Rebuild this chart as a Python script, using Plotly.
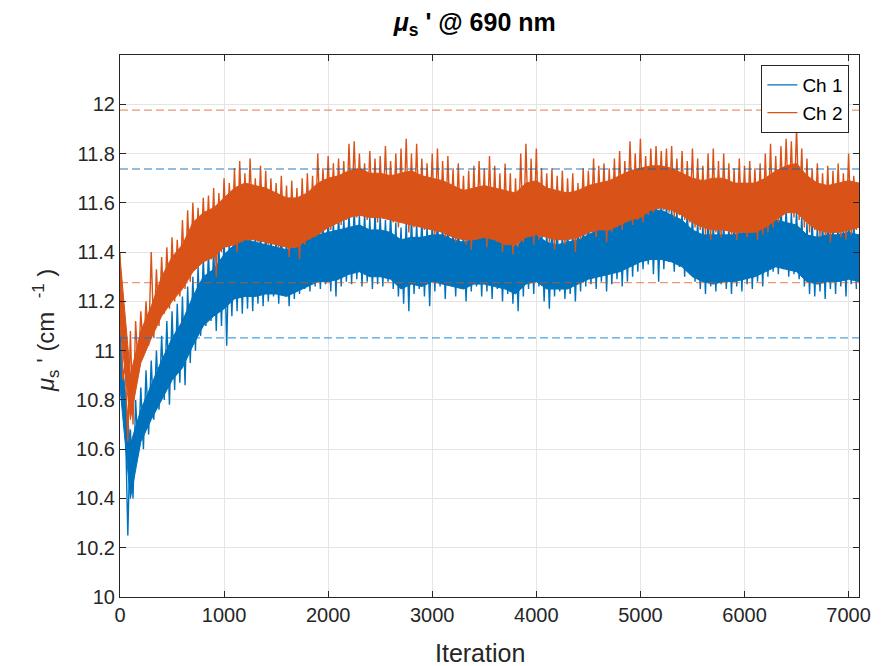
import plotly.graph_objects as go

BIN = 50      # iterations per bin for the spike envelope (local high, then local low)
CORE_STEP = 100  # iterations between samples of the dense core band

ch1_hi = [11.08, 10.75, 10.68, 10.80, 10.85, 10.92, 10.96, 11.00, 11.06, 11.12,
          11.16, 11.19, 11.22, 11.26, 11.30, 11.34, 11.38, 11.40, 11.42, 11.43,
          11.48, 11.46, 11.50, 11.52, 11.51, 11.50, 11.48, 11.50, 11.50, 11.48,
          11.47, 11.49, 11.46, 11.48, 11.50, 11.52, 11.51, 11.53, 11.54, 11.52,
          11.55, 11.53, 11.56, 11.54, 11.57, 11.58, 11.55, 11.56, 11.54, 11.57,
          11.55, 11.53, 11.56, 11.52, 11.50, 11.53, 11.55, 11.52, 11.54, 11.51,
          11.53, 11.55, 11.52, 11.54, 11.50, 11.52, 11.49, 11.51, 11.53, 11.50,
          11.52, 11.54, 11.51, 11.49, 11.52, 11.48, 11.50, 11.53, 11.55, 11.52,
          11.54, 11.51, 11.49, 11.52, 11.50, 11.48, 11.51, 11.49, 11.50, 11.53,
          11.54, 11.52, 11.55, 11.53, 11.56, 11.54, 11.57, 11.56, 11.58, 11.57,
          11.60, 11.59, 11.62, 11.63, 11.61, 11.60, 11.58, 11.57, 11.56, 11.57,
          11.55, 11.53, 11.52, 11.54, 11.52, 11.55, 11.53, 11.51, 11.54, 11.52,
          11.55, 11.53, 11.56, 11.55, 11.58, 11.57, 11.59, 11.60, 11.58, 11.56,
          11.57, 11.55, 11.52, 11.54, 11.51, 11.53, 11.55, 11.52, 11.54, 11.51,
          11.55, 11.53]
ch1_lo = [10.80, 10.25, 10.40, 10.58, 10.60, 10.66, 10.72, 10.76, 10.80, 10.78,
          10.84, 10.87, 10.86, 10.95, 11.00, 11.06, 11.10, 11.12, 11.08, 11.10,
          11.02, 11.14, 11.16, 11.15, 11.17, 11.16, 11.19, 11.18, 11.20, 11.22,
          11.19, 11.23, 11.18, 11.21, 11.23, 11.25, 11.24, 11.26, 11.25, 11.27,
          11.24, 11.22, 11.26, 11.28, 11.27, 11.29, 11.26, 11.28, 11.25, 11.27,
          11.26, 11.28, 11.25, 11.22, 11.19, 11.16, 11.23, 11.25, 11.22, 11.18,
          11.24, 11.26, 11.21, 11.27, 11.22, 11.25, 11.20, 11.24, 11.26, 11.22,
          11.24, 11.21, 11.25, 11.20, 11.23, 11.19, 11.16, 11.22, 11.25, 11.23,
          11.26, 11.20, 11.17, 11.22, 11.24, 11.21, 11.23, 11.20, 11.24, 11.26,
          11.27, 11.25, 11.28, 11.24, 11.27, 11.29, 11.26, 11.28, 11.30, 11.32,
          11.33, 11.35, 11.31, 11.28, 11.33, 11.36, 11.32, 11.34, 11.30, 11.33,
          11.28, 11.25, 11.23, 11.26, 11.24, 11.27, 11.25, 11.23, 11.26, 11.24,
          11.27, 11.25, 11.28, 11.26, 11.30, 11.32, 11.31, 11.33, 11.30, 11.31,
          11.29, 11.26, 11.23, 11.22, 11.24, 11.21, 11.25, 11.23, 11.26, 11.22,
          11.27, 11.25]

ch2_hi = [11.40, 10.94, 11.08, 11.12, 11.16, 11.20, 11.40, 11.33, 11.38, 11.42,
          11.46, 11.45, 11.53, 11.57, 11.60, 11.58, 11.62, 11.63, 11.66, 11.64,
          11.70, 11.68, 11.74, 11.77, 11.72, 11.78, 11.70, 11.75, 11.73, 11.70,
          11.68, 11.71, 11.67, 11.69, 11.66, 11.70, 11.72, 11.71, 11.80, 11.74,
          11.79, 11.76, 11.78, 11.77, 11.84, 11.85, 11.80, 11.76, 11.81, 11.78,
          11.79, 11.83, 11.77, 11.80, 11.82, 11.86, 11.80, 11.84, 11.78, 11.76,
          11.80, 11.82, 11.77, 11.79, 11.74, 11.76, 11.71, 11.73, 11.75, 11.77,
          11.74, 11.79, 11.75, 11.72, 11.76, 11.72, 11.70, 11.80, 11.84, 11.78,
          11.82, 11.74, 11.72, 11.74, 11.71, 11.73, 11.70, 11.72, 11.68, 11.74,
          11.73, 11.78, 11.75, 11.76, 11.74, 11.78, 11.81, 11.77, 11.85, 11.80,
          11.86, 11.79, 11.82, 11.83, 11.81, 11.82, 11.83, 11.78, 11.81, 11.77,
          11.82, 11.78, 11.75, 11.80, 11.82, 11.77, 11.80, 11.76, 11.74, 11.78,
          11.75, 11.77, 11.74, 11.76, 11.80, 11.84, 11.79, 11.83, 11.86, 11.85,
          11.91, 11.82, 11.78, 11.74, 11.76, 11.72, 11.75, 11.73, 11.76, 11.72,
          11.80, 11.71]
ch2_lo = [10.88, 10.63, 10.70, 10.92, 10.98, 11.02, 11.05, 11.10, 11.15, 11.17,
          11.20, 11.22, 11.25, 11.28, 11.33, 11.36, 11.38, 11.37, 11.30, 11.40,
          11.42, 11.43, 11.40, 11.44, 11.46, 11.47, 11.44, 11.45, 11.43, 11.45,
          11.42, 11.44, 11.38, 11.42, 11.37, 11.43, 11.45, 11.46, 11.48, 11.50,
          11.49, 11.52, 11.51, 11.53, 11.55, 11.54, 11.56, 11.53, 11.55, 11.52,
          11.54, 11.55, 11.52, 11.50, 11.53, 11.48, 11.50, 11.52, 11.49, 11.51,
          11.47, 11.50, 11.46, 11.48, 11.44, 11.47, 11.43, 11.41, 11.45, 11.47,
          11.42, 11.46, 11.44, 11.40, 11.43, 11.39, 11.42, 11.44, 11.46, 11.43,
          11.45, 11.47, 11.44, 11.41, 11.45, 11.43, 11.46, 11.40, 11.45, 11.47,
          11.48, 11.46, 11.49, 11.44, 11.48, 11.50, 11.49, 11.52, 11.51, 11.53,
          11.52, 11.55, 11.56, 11.58, 11.57, 11.56, 11.54, 11.55, 11.53, 11.52,
          11.50, 11.49, 11.47, 11.45, 11.48, 11.46, 11.49, 11.47, 11.45, 11.48,
          11.46, 11.49, 11.45, 11.47, 11.48, 11.50, 11.52, 11.55, 11.56, 11.54,
          11.53, 11.50, 11.48, 11.49, 11.46, 11.47, 11.44, 11.48, 11.46, 11.45,
          11.47, 11.49]

# dense core of each trace, sampled every CORE_STEP iterations (0 .. 7100)
ch1_core_hi = [11.05, 10.62, 10.76, 10.86, 10.96, 11.05, 11.12, 11.22, 11.30, 11.33,
               11.39, 11.43, 11.45, 11.44, 11.43, 11.42, 11.41, 11.42, 11.45, 11.47,
               11.48, 11.49, 11.50, 11.51, 11.49, 11.49, 11.48, 11.45, 11.46, 11.46,
               11.47, 11.47, 11.45, 11.44, 11.45, 11.46, 11.45, 11.44, 11.42, 11.46,
               11.47, 11.44, 11.43, 11.44, 11.45, 11.47, 11.49, 11.50, 11.51, 11.53,
               11.55, 11.57, 11.57, 11.55, 11.53, 11.49, 11.47, 11.47, 11.47, 11.47,
               11.48, 11.49, 11.51, 11.53, 11.52, 11.51, 11.47, 11.46, 11.47, 11.47,
               11.48, 11.47]
ch1_core_lo = [10.85, 10.40, 10.63, 10.72, 10.80, 10.88, 10.93, 11.02, 11.10, 11.14,
               11.17, 11.21, 11.22, 11.22, 11.23, 11.23, 11.22, 11.24, 11.26, 11.28,
               11.28, 11.29, 11.31, 11.32, 11.30, 11.30, 11.29, 11.25, 11.27, 11.26,
               11.28, 11.27, 11.26, 11.25, 11.27, 11.27, 11.26, 11.25, 11.23, 11.27,
               11.28, 11.25, 11.25, 11.25, 11.27, 11.29, 11.30, 11.31, 11.32, 11.34,
               11.36, 11.37, 11.37, 11.36, 11.34, 11.30, 11.28, 11.27, 11.28, 11.28,
               11.29, 11.30, 11.32, 11.34, 11.33, 11.32, 11.28, 11.27, 11.28, 11.28,
               11.29, 11.28]
ch2_core_hi = [11.38, 10.90, 11.08, 11.18, 11.30, 11.38, 11.43, 11.52, 11.56, 11.58,
               11.62, 11.66, 11.68, 11.67, 11.66, 11.64, 11.62, 11.62, 11.64, 11.68,
               11.70, 11.71, 11.73, 11.74, 11.72, 11.72, 11.71, 11.72, 11.73, 11.71,
               11.70, 11.69, 11.67, 11.65, 11.66, 11.67, 11.66, 11.65, 11.64, 11.68,
               11.69, 11.66, 11.65, 11.64, 11.65, 11.67, 11.68, 11.69, 11.71, 11.73,
               11.74, 11.75, 11.75, 11.74, 11.72, 11.70, 11.69, 11.70, 11.70, 11.68,
               11.68, 11.68, 11.70, 11.73, 11.75, 11.76, 11.71, 11.68, 11.67, 11.68,
               11.69, 11.68]
ch2_core_lo = [11.10, 10.72, 10.95, 11.05, 11.14, 11.20, 11.25, 11.32, 11.36, 11.38,
               11.42, 11.43, 11.45, 11.45, 11.44, 11.43, 11.42, 11.42, 11.45, 11.47,
               11.50, 11.52, 11.54, 11.55, 11.54, 11.54, 11.53, 11.52, 11.51, 11.50,
               11.49, 11.48, 11.46, 11.45, 11.45, 11.46, 11.45, 11.43, 11.43, 11.46,
               11.47, 11.46, 11.45, 11.45, 11.46, 11.48, 11.49, 11.49, 11.51, 11.53,
               11.54, 11.57, 11.58, 11.57, 11.55, 11.52, 11.50, 11.49, 11.49, 11.48,
               11.48, 11.48, 11.50, 11.53, 11.56, 11.56, 11.52, 11.49, 11.48, 11.48,
               11.49, 11.50]

ch1_limits = [11.052, 11.737]   # dashed reference lines for Ch 1
ch2_limits = [11.276, 11.976]   # dashed reference lines for Ch 2
x_end = 7100

x_ticks = [0, 1000, 2000, 3000, 4000, 5000, 6000, 7000]
y_ticks = [10, 10.2, 10.4, 10.6, 10.8, 11, 11.2, 11.4, 11.6, 11.8, 12]


def zigzag(hi, lo):
    xs, ys = [], []
    for k, (h, l) in enumerate(zip(hi, lo)):
        xs += [k * BIN, k * BIN + BIN / 2]
        ys += [h, l]
    return xs, ys


def band(hi, lo):
    xs = [k * CORE_STEP for k in range(len(hi))]
    return xs + xs[::-1], list(hi) + list(lo)[::-1]


BLUE = "#0072BD"
ORANGE = "#D95319"
FONT = "Liberation Sans, Arial, Helvetica, sans-serif"
DARK = "#262626"

fig = go.Figure()
for name, color, hi, lo, chi, clo in [
        ("Ch 1", BLUE, ch1_hi, ch1_lo, ch1_core_hi, ch1_core_lo),
        ("Ch 2", ORANGE, ch2_hi, ch2_lo, ch2_core_hi, ch2_core_lo)]:
    bx, by = band(chi, clo)
    fig.add_trace(go.Scatter(x=bx, y=by, mode="lines", fill="toself", fillcolor=color,
                             line=dict(color=color, width=1.0), showlegend=False,
                             hoverinfo="skip"))
    zx, zy = zigzag(hi, lo)
    fig.add_trace(go.Scatter(x=zx, y=zy, mode="lines", name=name,
                             line=dict(color=color, width=1.4)))

for val in ch2_limits:
    fig.add_trace(go.Scatter(x=[0, x_end], y=[val, val], mode="lines", showlegend=False,
                             hoverinfo="skip",
                             line=dict(color="rgba(217,83,25,0.6)", width=1.3, dash="8px,4px")))
fig.add_trace(go.Scatter(x=[0, x_end], y=[ch1_limits[1]] * 2, mode="lines", showlegend=False,
                         hoverinfo="skip",
                         line=dict(color="rgba(0,100,180,0.85)", width=1.1, dash="8px,4px")))
fig.add_trace(go.Scatter(x=[0, x_end], y=[ch1_limits[0]] * 2, mode="lines", showlegend=False,
                         hoverinfo="skip",
                         line=dict(color="rgba(0,124,210,0.7)", width=1.3, dash="8px,4px")))

axis_common = dict(
    showline=True, linecolor=DARK, linewidth=1, mirror="ticks",
    ticks="inside", ticklen=6, tickcolor=DARK, tickwidth=1,
    showgrid=True, gridcolor="#e4e4e4", gridwidth=1, zeroline=False,
    tickfont=dict(family=FONT, size=20, color=DARK),
)

fig.update_layout(
    width=883, height=666,
    margin=dict(l=120, r=13, t=55, b=69),
    paper_bgcolor="white", plot_bgcolor="white",
    font=dict(family=FONT, color=DARK),
    title=dict(text="<b><i>μ</i><sub>s</sub> ' @ 690 nm</b>", xref="paper", x=0.48,
               xanchor="center", yref="container", y=0.967, yanchor="middle",
               font=dict(family=FONT, size=25, color="black")),
    xaxis=dict(range=[0, x_end], tickvals=x_ticks, tickformat="d", **axis_common),
    yaxis=dict(range=[10, 12.2], tickvals=y_ticks, **axis_common),
    legend=dict(x=0.987, xanchor="right", y=0.9815, yanchor="top",
                bgcolor="white", bordercolor=DARK, borderwidth=1,
                font=dict(family=FONT, size=19, color="black"),
                tracegroupgap=0, itemwidth=30),
    showlegend=True,
    annotations=[
        dict(text="Iteration", xref="paper", yref="paper", x=0.4867, y=-0.1033,
             xanchor="center", yanchor="middle", showarrow=False,
             font=dict(family=FONT, size=25, color=DARK)),
        dict(text="<i>μ</i><sub>s</sub>\u00a0'\u00a0(cm\u00a0\u00a0<sup>-1</sup>\u00a0)",
             xref="paper", yref="paper", x=-0.1, y=0.4908, textangle=-90,
             xanchor="center", yanchor="middle", showarrow=False,
             font=dict(family=FONT, size=24, color=DARK)),
    ],
)

fig.write_html(
    "out.html",
    config={"displayModeBar": False},
    post_script="document.body.style.margin='0';"
                "document.body.style.overflow='hidden';"
                "document.documentElement.style.overflow='hidden';",
)
